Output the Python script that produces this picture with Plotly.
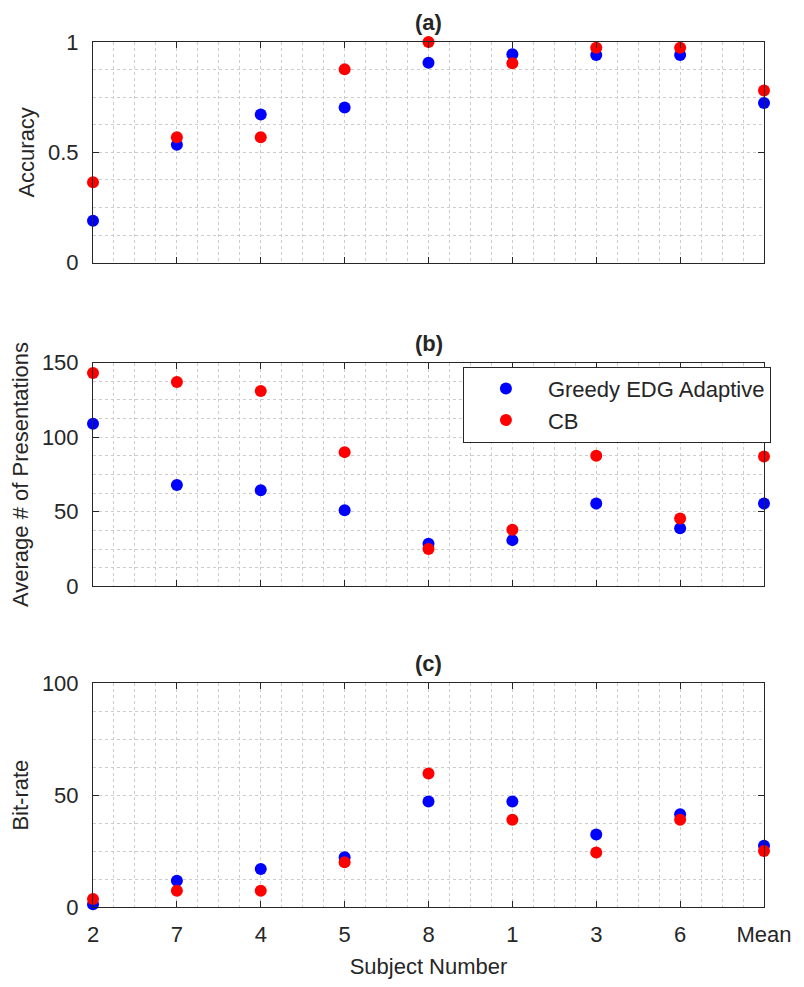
import plotly.graph_objects as go

subjects = ["2", "7", "4", "5", "8", "1", "3", "6", "Mean"]
x_pos = [1, 2, 3, 4, 5, 6, 7, 8, 9]

acc_greedy = [0.19, 0.535, 0.672, 0.703, 0.906, 0.944, 0.941, 0.941, 0.724]
acc_cb = [0.365, 0.569, 0.569, 0.876, 1.0, 0.904, 0.974, 0.974, 0.78]

pres_greedy = [109, 68, 64.5, 51, 28.5, 31, 55.5, 39, 55.5]
pres_cb = [143, 137, 131, 90, 25, 38, 87.5, 45.5, 87]

bit_greedy = [1.2, 11.7, 17.0, 22.2, 47.2, 47.2, 32.4, 41.5, 27.4]
bit_cb = [3.6, 7.3, 7.3, 20.0, 59.7, 39.0, 24.4, 39.0, 25.0]

series_names = ["Greedy EDG Adaptive", "CB"]
panel_titles = ["(a)", "(b)", "(c)"]
y_titles = ["Accuracy", "Average # of Presentations", "Bit-rate"]

FONT = "Liberation Sans, Arial, Helvetica, sans-serif"
TXT = "#262626"
GRID = "#cccccc"
BLUE = "#0000ff"
RED = "#ff0000"
FS = 22

W, H = 804, 987
ML, MR, MT, MB = 93, 33, 42, 79
ph = H - MT - MB
bottom_px = H - MB


def dom(top_px, bot_px):
    return [(bottom_px - bot_px) / ph, (bottom_px - top_px) / ph]


domains = [dom(42, 263), dom(363, 587), dom(684, 908)]
yranges = [[0, 1], [0, 150], [0, 100]]
ydticks = [0.5, 50, 50]
yminor = [0.125, 12.5, 12.5]

fig = go.Figure()

data = [(acc_greedy, acc_cb), (pres_greedy, pres_cb), (bit_greedy, bit_cb)]
for i, (g, c) in enumerate(data):
    xa = "x" if i == 0 else f"x{i+1}"
    ya = "y" if i == 0 else f"y{i+1}"
    show = i == 1
    fig.add_trace(go.Scatter(x=x_pos, y=g, mode="markers", name=series_names[0],
                             marker=dict(color=BLUE, size=12, line=dict(width=0)),
                             xaxis=xa, yaxis=ya, showlegend=show, cliponaxis=False))
    fig.add_trace(go.Scatter(x=x_pos, y=c, mode="markers", name=series_names[1],
                             marker=dict(color=RED, size=12, line=dict(width=0)),
                             xaxis=xa, yaxis=ya, showlegend=show, cliponaxis=False))

layout = dict(
    width=W, height=H,
    margin=dict(l=ML, r=MR, t=MT, b=MB),
    paper_bgcolor="white", plot_bgcolor="white",
    font=dict(family=FONT, size=FS, color=TXT),
    legend=dict(x=(778 - ML) / (W - ML - MR), y=(bottom_px - 367) / ph,
                xanchor="right", yanchor="top",
                bgcolor="white", bordercolor=TXT, borderwidth=1,
                font=dict(family=FONT, size=FS, color=TXT),
                itemwidth=74, tracegroupgap=0),
)

annotations = []
for i in range(3):
    xk = "xaxis" if i == 0 else f"xaxis{i+1}"
    yk = "yaxis" if i == 0 else f"yaxis{i+1}"
    anchor_x = "x" if i == 0 else f"x{i+1}"
    anchor_y = "y" if i == 0 else f"y{i+1}"
    layout[xk] = dict(
        domain=[0, 1], anchor=anchor_y, range=[1, 9],
        tickmode="array", tickvals=x_pos,
        ticktext=subjects if i == 2 else [""] * 9,
        showticklabels=(i == 2),
        ticks="inside", ticklen=6, tickcolor=TXT, tickwidth=1,
        showline=True, linecolor=TXT, linewidth=1, mirror="ticks",
        showgrid=True, gridcolor=GRID, griddash="dot", gridwidth=1,
        minor=dict(dtick=0.25, tick0=1, showgrid=True, gridcolor=GRID, griddash="dot", gridwidth=1),
        zeroline=False, ticklabelstandoff=8,
        tickfont=dict(family=FONT, size=FS, color=TXT),
        title=dict(text="Subject Number", standoff=12, font=dict(family=FONT, size=FS, color=TXT)) if i == 2 else None,
    )
    layout[yk] = dict(
        domain=domains[i], anchor=anchor_x, range=yranges[i],
        tickmode="linear", tick0=0, dtick=ydticks[i],
        ticks="inside", ticklen=6, tickcolor=TXT, tickwidth=1,
        showline=True, linecolor=TXT, linewidth=1, mirror="ticks",
        showgrid=True, gridcolor=GRID, griddash="dot", gridwidth=1,
        minor=dict(dtick=yminor[i], tick0=0, showgrid=True, gridcolor=GRID, griddash="dot", gridwidth=1),
        zeroline=False, ticklabelstandoff=9,
        tickfont=dict(family=FONT, size=FS, color=TXT),
        title=dict(text=y_titles[i], standoff=7, font=dict(family=FONT, size=FS, color=TXT)),
    )
    annotations.append(dict(
        text="<b>" + panel_titles[i] + "</b>", xref="paper", yref="paper",
        x=0.5, y=domains[i][1], xanchor="center", yanchor="bottom", yshift=5,
        showarrow=False, font=dict(family=FONT, size=FS, color=TXT)))

layout["annotations"] = annotations
fig.update_layout(**layout)
fig.write_html("out.html")
